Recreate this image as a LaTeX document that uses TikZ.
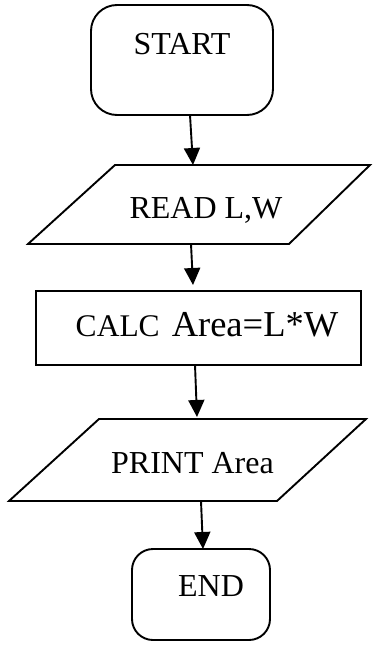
\documentclass[tikz,border=0pt]{standalone}
\usepackage{fontspec}
\setmainfont{Liberation Serif}
\usetikzlibrary{arrows.meta}
\begin{document}
\begin{tikzpicture}[x=1pt,y=-1pt,
  every node/.style={inner sep=0pt, outer sep=0pt},
  lbl/.style={anchor=base, font=\fontsize{32}{32}\selectfont},
  shapebox/.style={draw, line width=1.9pt, rectangle},
  shapeline/.style={draw, line width=1.9pt, line join=miter},
  flow/.style={draw, line width=1.9pt, -{Triangle[width=16pt,length=17pt]}},
]
\useasboundingbox (0,0) rectangle (373,645);
% START
\node[shapebox, rounded corners=26pt, minimum width=182pt, minimum height=110pt] (start) at (182,60) {};
\node[lbl] (starttxt) at (182,54) {START};
% READ
\draw[shapeline] (115,165) coordinate (readtl) -- (370,165) coordinate (readtr)
  -- (289,244) coordinate (readbr) -- (28,244) coordinate (readbl) -- cycle;
\node[lbl] (readtxt) at (206,218) {READ L,W};
% CALC
\node[shapebox, minimum width=325pt, minimum height=74pt] (calc) at (198.5,328) {};
\node[anchor=base] (calctxt) at (207,336) {{\fontsize{31.5}{31.5}\selectfont CALC}\hspace*{12pt}{\fontsize{36.5}{36.5}\selectfont Area=L*W}};
% PRINT
\draw[shapeline] (99,419) coordinate (printtl) -- (366,419) coordinate (printtr)
  -- (277,501) coordinate (printbr) -- (9,501) coordinate (printbl) -- cycle;
\node[lbl] (printtxt) at (192.5,473) {PRINT Area};
% END
\node[shapebox, rounded corners=21pt, minimum width=138pt, minimum height=91pt] (end) at (201,594.5) {};
\node[lbl] (endtxt) at (211,596) {END};
% arrow end points
\coordinate (a1s) at ([xshift=8pt]start.south);
\coordinate (a1e) at (193,165);
\coordinate (a2s) at (191,244);
\coordinate (a2e) at (193,285);
\coordinate (a3s) at ([xshift=-3.5pt]calc.south);
\coordinate (a3e) at (197,417);
\coordinate (a4s) at (201,501);
\coordinate (a4e) at ([xshift=2pt]end.north);
\draw[flow] (a1s) -- (a1e);
\draw[flow] (a2s) -- (a2e);
\draw[flow] (a3s) -- (a3e);
\draw[flow] (a4s) -- (a4e);
\end{tikzpicture}
\end{document}
